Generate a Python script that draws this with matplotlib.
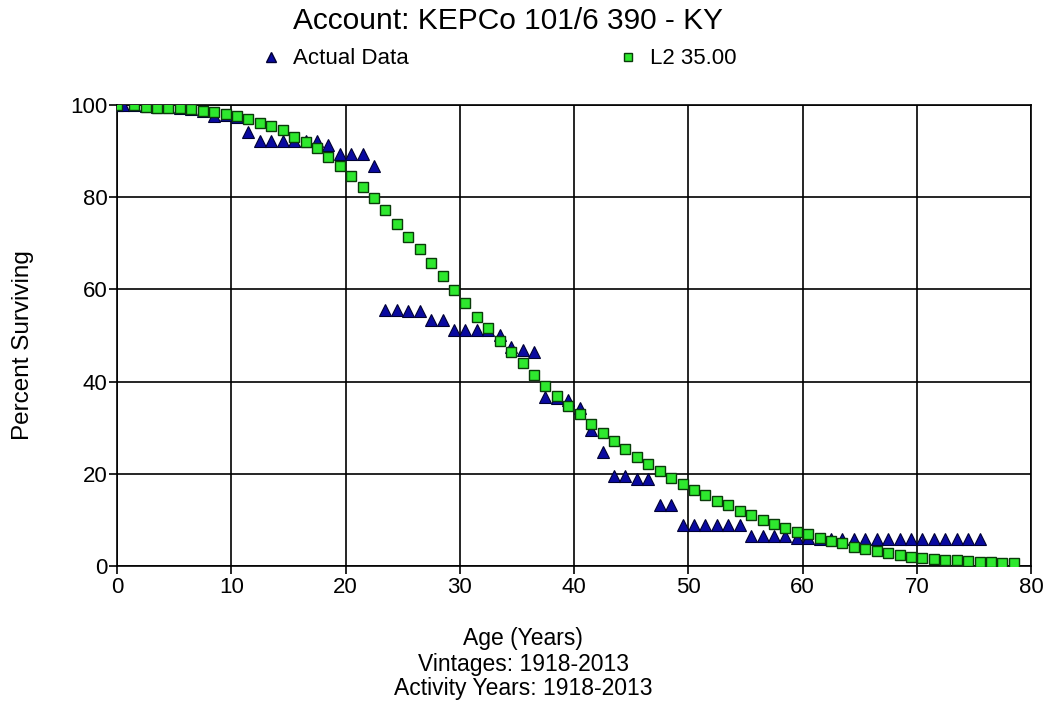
import numpy as np
import matplotlib.pyplot as plt
from matplotlib.lines import Line2D

plt.rcParams['font.family'] = ['Liberation Sans', 'DejaVu Sans']

# actual data (age in years, percent surviving)
actual_age = [0, 0.5] + [i + 0.5 for i in range(1, 76)]
actual_pct = [100, 100, 99.9, 99.7, 99.6, 99.5, 99.3, 99.1, 98.7, 97.6, 97.8, 97.5,
              94.2, 92.2, 92.2, 92.2, 92.2, 92.1, 92.2, 91.3, 89.4, 89.4, 89.4, 86.8,
              55.6, 55.5, 55.3, 55.3, 53.4, 53.4, 51.2, 51.2, 51.2, 51.1, 50.1, 47.6,
              46.9, 46.5, 36.6, 36.4, 36.0, 34.2, 29.6, 24.8, 19.6, 19.6, 18.8, 18.8,
              13.2, 13.2, 8.9, 8.9, 8.9, 8.9, 8.9, 8.9, 6.4, 6.4, 6.4, 6.4,
              6.0, 6.0, 5.8, 5.8, 5.8, 5.8, 5.8, 5.8, 5.8, 5.8, 5.8, 5.8,
              5.8, 5.8, 5.8, 5.8, 5.8]

# L2 35.00 curve
curve_age = [0] + [i + 0.5 for i in range(1, 79)]
curve_pct = [100, 100, 99.5, 99.4, 99.4, 99.3, 99.1, 98.8, 98.4, 98.0, 97.6,
             96.9, 96.2, 95.4, 94.6, 93.1, 92.0, 90.6, 88.8, 86.8, 84.6,
             82.3, 79.8, 77.2, 74.2, 71.4, 68.8, 65.7, 62.9, 59.9, 57.0,
             54.0, 51.6, 48.8, 46.4, 44.0, 41.4, 39.0, 36.9, 34.7, 33.0,
             30.8, 28.9, 27.1, 25.4, 23.6, 22.1, 20.6, 19.1, 17.8, 16.5,
             15.4, 14.2, 13.2, 12.0, 11.0, 10.0, 9.2, 8.3, 7.4, 7.0,
             6.0, 5.4, 4.9, 4.2, 3.7, 3.3, 2.9, 2.4, 2.0, 1.7,
             1.5, 1.3, 1.3, 1.1, 0.9, 0.8, 0.7, 0.6]

tri_face, tri_edge = '#0a0aa0', '#000033'
sq_face, sq_edge = '#2ee82e', '#0a3a0a'

W, H = 1046, 708
fig = plt.figure(figsize=(W / 100, H / 100), dpi=100)
ax = fig.add_axes([117 / W, 1 - 566 / H, (1031 - 117) / W, (566 - 105) / H])

ax.plot(actual_age, actual_pct, linestyle='none', marker='^', markersize=8.5,
        markerfacecolor=tri_face, markeredgecolor=tri_edge, markeredgewidth=0.8, zorder=3)
ax.plot(curve_age, curve_pct, linestyle='none', marker='s', markersize=7.8,
        markerfacecolor=sq_face, markeredgecolor=sq_edge, markeredgewidth=1.0, zorder=4)

ax.set_xlim(0, 80)
ax.set_ylim(0, 100)
ax.set_xticks(range(0, 81, 10))
ax.set_yticks(range(0, 101, 20))
ax.grid(True, color='black', linewidth=1.2)
ax.set_axisbelow(True)
for s in ax.spines.values():
    s.set_color('black')
    s.set_linewidth(1.2)
ax.tick_params(axis='y', labelsize=16, length=6, width=1.2, pad=1)
ax.tick_params(axis='x', labelsize=16, length=6, width=1.2, pad=2)

# labels and titles
fig.text(23 / W, 1 - 345 / H, 'Percent Surviving', rotation=90, ha='center', va='center',
         fontsize=17.5)
fig.text(0.5, 1 - 639 / H, 'Age (Years)', ha='center', va='center', fontsize=16.5)
fig.text(0.5, 1 - 664 / H, 'Vintages: 1918-2013', ha='center', va='center', fontsize=16.5)
fig.text(0.5, 1 - 689 / H, 'Activity Years: 1918-2013', ha='center', va='center', fontsize=16.5)
fig.text(508 / W, 1 - 21 / H, 'Account: KEPCo 101/6 390 - KY', ha='center', va='center',
         fontsize=21.5)

# legend items placed individually
h1 = Line2D([], [], linestyle='none', marker='^', markersize=7,
            markerfacecolor=tri_face, markeredgecolor=tri_edge)
h2 = Line2D([], [], linestyle='none', marker='s', markersize=6,
            markerfacecolor=sq_face, markeredgecolor=sq_edge)
for h, lab, x0 in [(h1, 'Actual Data', 260), (h2, 'L2 35.00', 617)]:
    fig.legend([h], [lab], loc='center left', bbox_to_anchor=(x0 / W, 1 - 59 / H),
               frameon=False, fontsize=16, handlelength=1.0, handletextpad=0.5,
               borderpad=0, borderaxespad=0)

fig.savefig('out.png', dpi=100)
